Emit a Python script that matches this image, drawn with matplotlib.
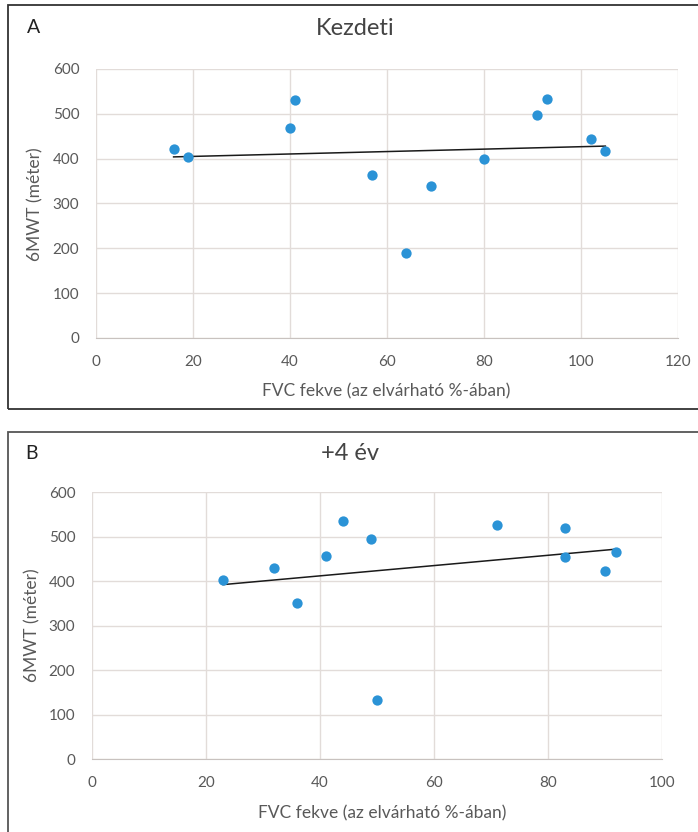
import numpy as np
import matplotlib.pyplot as plt
from matplotlib.patches import Rectangle

# A - Kezdeti
fvc_a = [16, 19, 40, 41, 57, 64, 69, 80, 91, 93, 102, 105]
mwt_a = [422, 403, 468, 530, 363, 190, 338, 400, 497, 533, 443, 418]

# B - +4 év
fvc_b = [23, 32, 36, 41, 44, 49, 50, 71, 83, 83, 90, 92]
mwt_b = [402, 430, 350, 457, 535, 495, 132, 525, 520, 453, 423, 465]

plt.rcParams['font.family'] = ['Lato', 'DejaVu Sans']

dot = '#2b93d6'
grey = '#595959'


def panel(ax, x, y, xmax):
    ax.scatter(x, y, s=55, color=dot, zorder=3, linewidths=0)
    k, b = np.polyfit(x, y, 1)
    xs = np.array([min(x), max(x)])
    ax.plot(xs, k * xs + b, color='#1a1a1a', lw=1.1, zorder=2)
    ax.set_xlim(0, xmax)
    ax.set_ylim(0, 600)
    ax.set_xticks(range(0, xmax + 1, 20))
    ax.set_yticks(range(0, 601, 100))
    ax.grid(True, color='#e2dcd9', lw=1)
    ax.set_axisbelow(True)
    for s in ['top', 'right', 'left']:
        ax.spines[s].set_visible(False)
    ax.spines['bottom'].set_color('#c8c2bf')
    ax.tick_params(length=0, labelsize=11, colors=grey, pad=12)


fig = plt.figure(figsize=(6.98, 8.32), dpi=100)

fig.patches.append(Rectangle((0.0115, 0.5084), 1.0, 0.4856, transform=fig.transFigure,
                             fill=False, edgecolor='#333333', lw=1.3))
fig.patches.append(Rectangle((0.0115, -0.05), 1.0, 0.5308, transform=fig.transFigure,
                             fill=False, edgecolor='#555555', lw=1.3))

ax1 = fig.add_axes([0.1375, 0.5938, 0.834, 0.3233])
panel(ax1, fvc_a, mwt_a, 120)
ax2 = fig.add_axes([0.1318, 0.0877, 0.8166, 0.3209])
panel(ax2, fvc_b, mwt_b, 100)

fig.text(0.0387, 0.9675, 'A', fontsize=14, va='center', color='#222222')
fig.text(0.5086, 0.9663, 'Kezdeti', fontsize=17, ha='center', va='center', color='#444444')
fig.text(0.553, 0.529, 'FVC fekve (az elvárható %-ában)', fontsize=12.5, ha='center', va='center', color=grey)
fig.text(0.05, 0.755, '6MWT (méter)', fontsize=12.5, rotation=90, ha='center', va='center', color=grey)

fig.text(0.036, 0.4555, 'B', fontsize=14, va='center', color='#222222')
fig.text(0.5014, 0.4555, '+4 év', fontsize=17, ha='center', va='center', color='#444444')
fig.text(0.547, 0.0228, 'FVC fekve (az elvárható %-ában)', fontsize=12.5, ha='center', va='center', color=grey)
fig.text(0.047, 0.248, '6MWT (méter)', fontsize=12.5, rotation=90, ha='center', va='center', color=grey)

fig.savefig('out.png', dpi=100)
